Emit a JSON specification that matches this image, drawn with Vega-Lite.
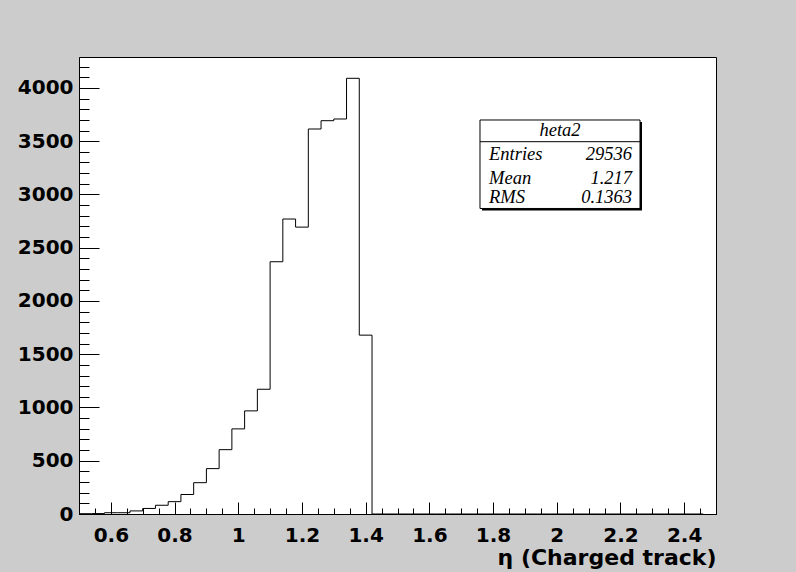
{
  "$schema": "https://vega.github.io/schema/vega-lite/v6.json",
  "width": 637,
  "height": 457,
  "autosize": {"type": "none"},
  "padding": {"left": 79, "top": 57, "right": 80, "bottom": 58},
  "background": "#cccccc",
  "config": {
    "view": {"stroke": "black", "strokeWidth": 1, "fill": "white"},
    "axis": {
      "grid": false,
      "domainColor": "black",
      "domainWidth": 1,
      "tickColor": "black",
      "tickWidth": 1,
      "labelColor": "black",
      "titleColor": "black",
      "labelFont": "DejaVu Sans",
      "labelFontWeight": "bold",
      "labelFontSize": 20,
      "labelFlush": false,
      "labelOverlap": false,
      "labelBound": false
    }
  },
  "resolve": {"axis": {"x": "independent", "y": "independent"}},
  "layer": [
    {
      "data": {
        "values": [
          {"lo": 0.50, "count": 3}, {"lo": 0.54, "count": 4}, {"lo": 0.58, "count": 12}, {"lo": 0.62, "count": 12},
          {"lo": 0.66, "count": 29}, {"lo": 0.70, "count": 52}, {"lo": 0.74, "count": 82}, {"lo": 0.78, "count": 116},
          {"lo": 0.82, "count": 183}, {"lo": 0.86, "count": 294}, {"lo": 0.90, "count": 426}, {"lo": 0.94, "count": 604},
          {"lo": 0.98, "count": 799}, {"lo": 1.02, "count": 968}, {"lo": 1.06, "count": 1171}, {"lo": 1.10, "count": 2368},
          {"lo": 1.14, "count": 2769}, {"lo": 1.18, "count": 2693}, {"lo": 1.22, "count": 3614}, {"lo": 1.26, "count": 3692},
          {"lo": 1.30, "count": 3708}, {"lo": 1.34, "count": 4090}, {"lo": 1.38, "count": 1679}, {"lo": 1.42, "count": 0},
          {"lo": 1.46, "count": 0}, {"lo": 1.50, "count": 0}, {"lo": 1.54, "count": 0}, {"lo": 1.58, "count": 0},
          {"lo": 1.62, "count": 0}, {"lo": 1.66, "count": 0}, {"lo": 1.70, "count": 0}, {"lo": 1.74, "count": 0},
          {"lo": 1.78, "count": 0}, {"lo": 1.82, "count": 0}, {"lo": 1.86, "count": 0}, {"lo": 1.90, "count": 0},
          {"lo": 1.94, "count": 0}, {"lo": 1.98, "count": 0}, {"lo": 2.02, "count": 0}, {"lo": 2.06, "count": 0},
          {"lo": 2.10, "count": 0}, {"lo": 2.14, "count": 0}, {"lo": 2.18, "count": 0}, {"lo": 2.22, "count": 0},
          {"lo": 2.26, "count": 0}, {"lo": 2.30, "count": 0}, {"lo": 2.34, "count": 0}, {"lo": 2.38, "count": 0},
          {"lo": 2.42, "count": 0}, {"lo": 2.46, "count": 0}
        ]
      },
      "mark": {"type": "line", "interpolate": "step-after", "color": "black", "strokeWidth": 1},
      "encoding": {
        "x": {
          "field": "lo",
          "type": "quantitative",
          "scale": {"domain": [0.5, 2.5], "nice": false, "zero": false},
          "axis": {
            "orient": "bottom",
            "values": [0.6, 0.8, 1, 1.2, 1.4, 1.6, 1.8, 2, 2.2, 2.4],
            "tickSize": -12,
            "format": ".1~f",
            "labelPadding": 23,
            "labelBaseline": "top",
            "title": "η (Charged track)",
            "titleFont": "DejaVu Sans",
            "titleFontWeight": "bold",
            "titleFontSize": 22,
            "titleAnchor": "end",
            "titleAlign": "right",
            "titleBaseline": "alphabetic",
            "titleX": 637,
            "titleY": 50
          }
        },
        "y": {
          "field": "count",
          "type": "quantitative",
          "scale": {"domain": [0, 4290], "nice": false, "zero": true},
          "axis": {
            "orient": "left",
            "values": [0, 500, 1000, 1500, 2000, 2500, 3000, 3500, 4000],
            "tickSize": -20,
            "format": "d",
            "labelPadding": 26,
            "labelBaseline": "middle",
            "title": null
          }
        }
      }
    },
    {
      "data": {"values": [{}]},
      "mark": {"type": "point", "opacity": 0},
      "encoding": {
        "x": {
          "datum": 0.5, "type": "quantitative",
          "axis": {
            "orient": "bottom",
            "values": [0.5, 0.55, 0.65, 0.7, 0.75, 0.85, 0.9, 0.95, 1.05, 1.1, 1.15, 1.25, 1.3, 1.35, 1.45, 1.5, 1.55, 1.65, 1.7, 1.75, 1.85, 1.9, 1.95, 2.05, 2.1, 2.15, 2.25, 2.3, 2.35, 2.45, 2.5],
            "tickSize": -6, "labels": false, "domain": false, "title": null
          }
        },
        "y": {
          "datum": 0, "type": "quantitative",
          "axis": {
            "orient": "left",
            "values": [100, 200, 300, 400, 600, 700, 800, 900, 1100, 1200, 1300, 1400, 1600, 1700, 1800, 1900, 2100, 2200, 2300, 2400, 2600, 2700, 2800, 2900, 3100, 3200, 3300, 3400, 3600, 3700, 3800, 3900, 4100, 4200],
            "tickSize": -10, "labels": false, "domain": false, "title": null
          }
        }
      }
    },
    {
      "data": {"values": [{}]},
      "mark": {"type": "rect", "fill": "black", "xOffset": 2, "x2Offset": 2, "yOffset": 2, "y2Offset": 2},
      "encoding": {
        "x": {"datum": 1.759, "type": "quantitative", "axis": null},
        "x2": {"datum": 2.2614},
        "y": {"datum": 3698.6, "type": "quantitative", "axis": null},
        "y2": {"datum": 2868}
      }
    },
    {
      "data": {"values": [{}]},
      "mark": {"type": "rect", "fill": "white", "stroke": "black", "strokeWidth": 1},
      "encoding": {
        "x": {"datum": 1.759, "type": "quantitative", "axis": null},
        "x2": {"datum": 2.2614},
        "y": {"datum": 3698.6, "type": "quantitative", "axis": null},
        "y2": {"datum": 2868}
      }
    },
    {
      "data": {"values": [{}]},
      "mark": {"type": "rule", "color": "black", "strokeWidth": 1},
      "encoding": {
        "x": {"datum": 1.759, "type": "quantitative", "axis": null},
        "x2": {"datum": 2.2614},
        "y": {"datum": 3494.9, "type": "quantitative", "axis": null}
      }
    },
    {
      "data": {"values": [{"name": "heta2"}]},
      "mark": {"type": "text", "font": "Liberation Serif", "fontStyle": "italic", "fontSize": 18.5, "align": "center", "baseline": "alphabetic", "color": "black"},
      "encoding": {
        "x": {"datum": 2.0102, "type": "quantitative", "axis": null},
        "y": {"datum": 3548.4, "type": "quantitative", "axis": null},
        "text": {"field": "name"}
      }
    },
    {
      "data": {"values": [{"k": "Entries", "v": "29536"}]},
      "layer": [
        {"mark": {"type": "text", "font": "Liberation Serif", "fontStyle": "italic", "fontSize": 18.5, "align": "left", "baseline": "alphabetic", "color": "black"},
         "encoding": {"x": {"datum": 1.7873, "type": "quantitative", "axis": null}, "y": {"datum": 3323.1, "type": "quantitative", "axis": null}, "text": {"field": "k"}}},
        {"mark": {"type": "text", "font": "Liberation Serif", "fontStyle": "italic", "fontSize": 18.5, "align": "right", "baseline": "alphabetic", "color": "black"},
         "encoding": {"x": {"datum": 2.2363, "type": "quantitative", "axis": null}, "y": {"datum": 3323.1, "type": "quantitative", "axis": null}, "text": {"field": "v"}}}
      ]
    },
    {
      "data": {"values": [{"k": "Mean", "v": "1.217"}]},
      "layer": [
        {"mark": {"type": "text", "font": "Liberation Serif", "fontStyle": "italic", "fontSize": 18.5, "align": "left", "baseline": "alphabetic", "color": "black"},
         "encoding": {"x": {"datum": 1.7873, "type": "quantitative", "axis": null}, "y": {"datum": 3097.8, "type": "quantitative", "axis": null}, "text": {"field": "k"}}},
        {"mark": {"type": "text", "font": "Liberation Serif", "fontStyle": "italic", "fontSize": 18.5, "align": "right", "baseline": "alphabetic", "color": "black"},
         "encoding": {"x": {"datum": 2.2363, "type": "quantitative", "axis": null}, "y": {"datum": 3097.8, "type": "quantitative", "axis": null}, "text": {"field": "v"}}}
      ]
    },
    {
      "data": {"values": [{"k": "RMS", "v": "0.1363"}]},
      "layer": [
        {"mark": {"type": "text", "font": "Liberation Serif", "fontStyle": "italic", "fontSize": 18.5, "align": "left", "baseline": "alphabetic", "color": "black"},
         "encoding": {"x": {"datum": 1.7873, "type": "quantitative", "axis": null}, "y": {"datum": 2916.6, "type": "quantitative", "axis": null}, "text": {"field": "k"}}},
        {"mark": {"type": "text", "font": "Liberation Serif", "fontStyle": "italic", "fontSize": 18.5, "align": "right", "baseline": "alphabetic", "color": "black"},
         "encoding": {"x": {"datum": 2.2363, "type": "quantitative", "axis": null}, "y": {"datum": 2916.6, "type": "quantitative", "axis": null}, "text": {"field": "v"}}}
      ]
    }
  ]
}
